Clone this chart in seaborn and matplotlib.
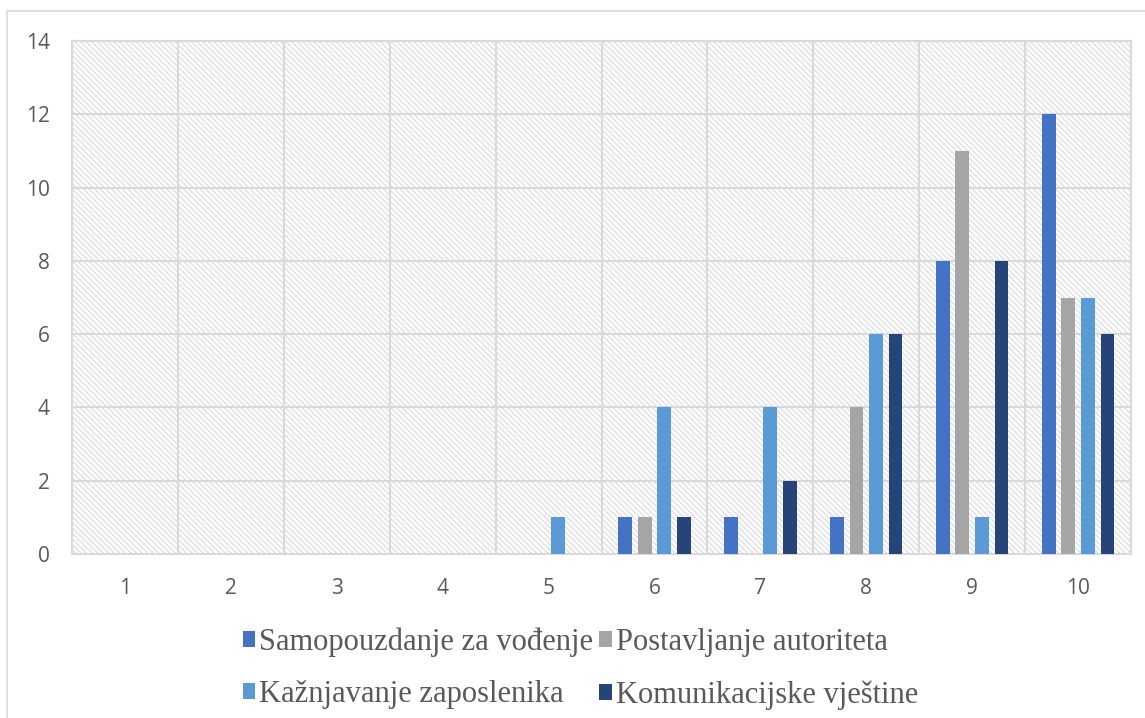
import pandas as pd
import matplotlib.pyplot as plt
import seaborn as sns
from matplotlib.patches import Rectangle

# ─── Podaci ──────────────────────────────────────────────────────────────────
ocjene = ["1", "2", "3", "4", "5", "6", "7", "8", "9", "10"]
samopouzdanje = [0, 0, 0, 0, 0, 1, 1, 1, 8, 12]
autoritet = [0, 0, 0, 0, 0, 1, 0, 4, 11, 7]
kaznjavanje = [0, 0, 0, 0, 1, 4, 4, 6, 1, 7]
komunikacija = [0, 0, 0, 0, 0, 1, 2, 6, 8, 6]

serije = ["Samopouzdanje za vođenje", "Postavljanje autoriteta",
          "Kažnjavanje zaposlenika", "Komunikacijske vještine"]
boje = ["#4472C4", "#A5A5A5", "#5B9BD5", "#264478"]

df = pd.DataFrame({
    "ocjena": ocjene * 4,
    "serija": [s for s in serije for _ in ocjene],
    "broj": samopouzdanje + autoritet + kaznjavanje + komunikacija,
})

sns.set_theme(style="white")
plt.rcParams["font.family"] = ["Open Sans", "DejaVu Sans"]
GRID = "#d9d9d9"

fig = plt.figure(figsize=(11.45, 7.18), dpi=100)
ax = fig.add_axes([72 / 1145, 1 - 554 / 718, (1131 - 72) / 1145, (554 - 41) / 718])

# vanjski okvir grafikona
fig.patches.append(Rectangle((7 / 1145, -0.1), 1.2, 1 - 11 / 718 + 0.1,
                             transform=fig.transFigure, fill=False,
                             edgecolor=GRID, linewidth=1.2, zorder=0))

# šrafirana pozadina
plt.rcParams["hatch.color"] = "#e0e0e0"
plt.rcParams["hatch.linewidth"] = 1.0
ax.add_patch(Rectangle((0, 0), 1, 1, transform=ax.transAxes, facecolor="white",
                       hatch="\\\\\\\\\\\\", edgecolor="#e0e0e0", linewidth=0, zorder=0))

sns.barplot(data=df, x="ocjena", y="broj", hue="serija", hue_order=serije,
            palette=boje, order=ocjene, width=0.74, gap=0.3, saturation=1,
            linewidth=0, edgecolor="none", ax=ax, zorder=3, legend=True)

ax.set_ylim(0, 14)
ax.set_xlim(-0.5, 9.5)
ax.set_yticks(range(0, 15, 2))
ax.set_xticks(range(10))
ax.set_xticklabels(ocjene)

# mreža
for y in range(2, 15, 2):
    ax.axhline(y, color=GRID, linewidth=1.5, zorder=1)
for x in range(10):
    ax.axvline(x + 0.5, color=GRID, linewidth=1.5, zorder=1)

for s in ax.spines.values():
    s.set_color(GRID)
    s.set_linewidth(1.5)

ax.tick_params(axis="both", length=0, labelsize=15, colors="#595959")
ax.tick_params(axis="x", pad=17)
ax.tick_params(axis="y", pad=16)
ax.set_xlabel("")
ax.set_ylabel("")

# legenda: redovi kao u izvorniku
h, l = ax.get_legend_handles_labels()
red = [0, 2, 1, 3]
ax.legend([h[i] for i in red], [l[i] for i in red],
          loc="upper center", bbox_to_anchor=(0.48, -0.09), ncol=2, frameon=False,
          prop={"family": "Liberation Serif", "size": 22}, labelcolor="#595959",
          handlelength=0.42, handleheight=0.42, handletextpad=0.12,
          columnspacing=0.2, labelspacing=0.75)

fig.savefig("out.png", dpi=100)
